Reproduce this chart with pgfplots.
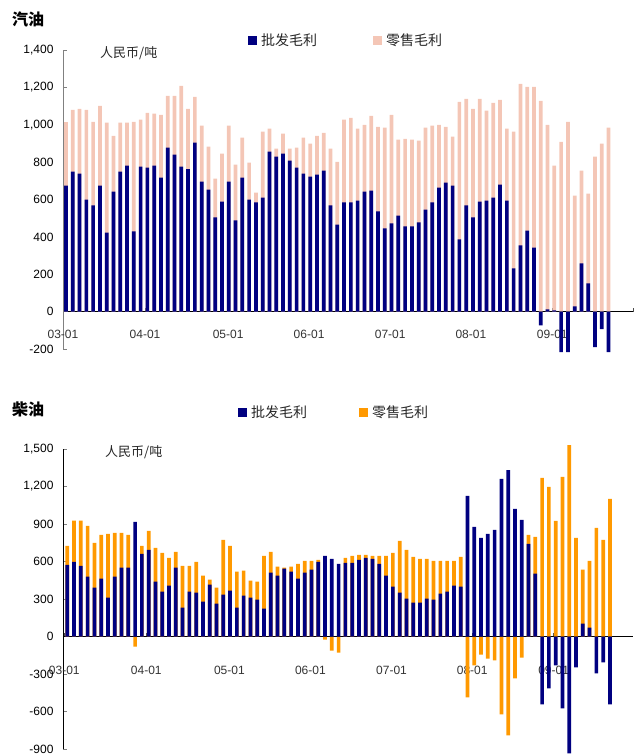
\documentclass[border=0pt]{standalone}
\usepackage{pgfplots}
\pgfplotsset{compat=1.18}
\usepackage{pgfplotstable}
\usepackage{fontspec}
\setmainfont{Liberation Sans}
\newfontfamily\cjk{Noto Sans CJK SC}
\definecolor{navyc}{HTML}{000080}
\definecolor{pinkc}{HTML}{F4C6B6}
\definecolor{orangec}{HTML}{FF9900}

\pgfplotstableread{
i b r
1 674 340
2 749 331
3 738 347
4 600 480
5 568 448
6 674 427
7 423 588
8 642 299
9 749 262
10 781 230
11 429 587
12 776 251
13 770 294
14 781 278
15 717 336
16 877 278
17 840 315
18 776 432
19 762 323
20 904 245
21 696 299
22 653 230
23 504 208
24 589 256
25 696 299
26 488 298
27 717 214
28 600 197
29 584 53
30 610 353
31 856 123
32 829 43
33 845 107
34 808 64
35 770 107
36 738 193
37 722 177
38 733 208
39 754 203
40 568 304
41 466 336
42 584 443
43 584 453
44 594 385
45 642 358
46 648 400
47 536 453
48 445 539
49 472 581
50 514 406
51 456 469
52 456 464
53 477 438
54 546 438
55 584 411
56 664 336
57 690 299
58 674 262
59 386 737
60 568 571
61 504 581
62 589 550
63 594 481
64 610 507
65 680 453
66 594 385
67 231 732
68 354 865
69 434 769
70 343 860
71 -73 1128
72 12 988
73 7 774
74 -217 909
75 -217 1016
76 28 593
77 258 496
78 151 481
79 -190 829
80 -94 899
81 -217 984
}\gasdata

\pgfplotstableread{
i b r
1 574 152
2 598 330
3 566 362
4 479 407
5 391 359
6 463 351
7 311 511
8 479 351
9 551 279
10 551 263
11 918 -80
12 662 64
13 694 152
14 439 271
15 359 311
16 407 223
17 551 127
18 231 335
19 359 207
20 351 247
21 279 208
22 415 40
23 263 128
24 335 439
25 367 359
26 231 288
27 327 200
28 311 136
29 295 144
30 223 423
31 511 167
32 487 72
33 543 8
34 519 40
35 463 119
36 511 95
37 535 71
38 598 16
39 646 -24
40 622 -112
41 582 -128
42 590 40
43 590 56
44 614 40
45 630 24
46 622 24
47 582 64
48 487 159
49 399 271
50 351 415
51 303 391
52 271 367
53 271 351
54 303 319
55 295 311
56 343 263
57 359 247
58 407 199
59 399 239
60 1125 -487
61 878 -231
62 790 -144
63 822 -176
64 854 -191
65 1261 -622
66 1332 -790
67 1021 -335
68 934 -168
69 742 72
70 503 295
71 -543 1269
72 -415 1197
73 -231 926
74 -574 1277
75 -934 1532
76 -247 790
77 104 431
78 72 534
79 -295 870
80 -207 774
81 -543 1101
}\dieseldata

\pgfplotsset{
  sqlegend/.style={legend image code/.code={\fill[##1] (0bp,-4.5bp) rectangle (9bp,4.5bp);}},
  mychart/.style={
    scale only axis,
    width=570bp,
    axis x line=middle,
    axis y line=left,
    axis line style={-},
    x axis line style={black, line width=0.8bp},
    clip=false,
    tick align=inside,
    major tick length=4bp,
    hide obscured x ticks=false,
    x tick style={black!70, line width=0.6bp},
    y tick style={line width=0.6bp},
    xtick={0.557,12.65,24.9,36.84,48.8,60.7,72.7,84.6},
    xticklabels={03-01,04-01,05-01,06-01,07-01,08-01,09-01,{}},
    ticklabel style={font=\fontsize{12bp}{14bp}\selectfont},
    xticklabel style={text=black!80},
    yticklabel style={xshift=-6bp},
    /pgf/number format/assume math mode=true,
    /pgf/number format/1000 sep={,},
    legend columns=2,
    legend style={draw=none, fill=none, anchor=west, inner xsep=0pt, inner ysep=0pt,
      font=\cjk\fontsize{14bp}{16bp}\selectfont, text=black!85,
      /tikz/every odd column/.append style={column sep=2bp},
      legend cell align=left},
  },
  barstyle/.style={ybar, bar width=3.7bp, bar shift=0pt, draw=none},
}

\begin{document}
\begin{tikzpicture}
\useasboundingbox (0,0) rectangle (638bp,-755bp);

% ---------- Gasoline ----------
\begin{axis}[mychart,
  at={(63bp,-349bp)}, anchor=south west,
  height=299bp,
  xmin=0.557, xmax=84.6,
  ymin=-200, ymax=1400,
  ytick={-200,0,200,400,600,800,1000,1200,1400},
  y axis line style={gray, line width=0.8bp},
  y tick style={gray},
  xticklabel style={yshift=-15bp},
  legend style={at={(axis description cs:0.3246,1.0334)},
    /tikz/every even column/.append style={column sep=54bp}},
]
\addplot[barstyle, fill=pinkc, forget plot]
  table[x=i, y expr={ifthenelse(equal(greater(\thisrow{b},0),greater(\thisrow{r},0)),\thisrow{b}+\thisrow{r},\thisrow{r})}] {\gasdata};
\addplot[barstyle, fill=navyc, sqlegend] table[x=i, y=b] {\gasdata};
\addlegendentry{批发毛利}
\addlegendimage{fill=pinkc, draw=none, sqlegend}
\addlegendentry{零售毛利}
\end{axis}

% ---------- Diesel ----------
\begin{axis}[mychart,
  at={(63bp,-749bp)}, anchor=south west,
  height=300bp,
  xmin=0.37, xmax=84.4,
  ymin=-900, ymax=1500,
  ytick={-900,-600,-300,0,300,600,900,1200,1500},
  y axis line style={black, line width=0.8bp},
  xticklabel style={yshift=-26bp},
  legend style={at={(axis description cs:0.307,1.1233)},
    /tikz/every even column/.append style={column sep=50bp}},
]
\addplot[barstyle, fill=orangec, forget plot]
  table[x=i, y expr={ifthenelse(equal(greater(\thisrow{b},0),greater(\thisrow{r},0)),\thisrow{b}+\thisrow{r},\thisrow{r})}] {\dieseldata};
\addplot[barstyle, fill=navyc, sqlegend] table[x=i, y=b] {\dieseldata};
\addlegendentry{批发毛利}
\addlegendimage{fill=orangec, draw=none, sqlegend}
\addlegendentry{零售毛利}
\end{axis}

% titles and units
\node[anchor=west, inner sep=0pt, font=\cjk\bfseries\fontsize{16bp}{18bp}\selectfont] at (12bp,-19bp) {汽油};
\node[anchor=west, inner sep=0pt, font=\cjk\bfseries\fontsize{16bp}{18bp}\selectfont] at (12bp,-409bp) {柴油};
\node[anchor=west, inner sep=0pt, font=\cjk\fontsize{13bp}{15bp}\selectfont, text=black!85] at (100bp,-53bp) {人民币/吨};
\node[anchor=west, inner sep=0pt, font=\cjk\fontsize{13bp}{15bp}\selectfont, text=black!85] at (105bp,-452bp) {人民币/吨};
\end{tikzpicture}
\end{document}
